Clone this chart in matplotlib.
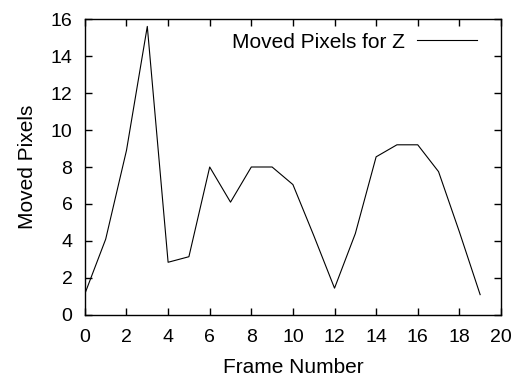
import matplotlib.pyplot as plt

plt.rcParams['font.family'] = ['Liberation Sans', 'DejaVu Sans']

# data
frames = list(range(20))
moved = [1.15, 4.1, 8.9, 15.6, 2.85, 3.15, 8.0, 6.1, 8.0, 8.0,
         7.05, 4.3, 1.45, 4.4, 8.55, 9.2, 9.2, 7.75, 4.5, 1.1]

fig = plt.figure(figsize=(5.24, 3.78), dpi=100)
ax = fig.add_axes([0.162, 0.1667, 0.794, 0.783])

ax.plot(frames, moved, color='black', lw=0.8, label='Moved Pixels for Z')

ax.set_xlim(0, 20)
ax.set_ylim(0, 16)
ax.set_xticks(range(0, 21, 2))
ax.set_yticks(range(0, 17, 2))
ax.tick_params(direction='in', top=True, right=True, labelsize=14,
               length=5, width=1)
ax.tick_params(axis='x', pad=10)
ax.tick_params(axis='y', pad=9)
for s in ax.spines.values():
    s.set_linewidth(1)

ax.set_xlabel('Frame Number', fontsize=15, labelpad=9)
ax.set_ylabel('Moved Pixels', fontsize=15, labelpad=10)

leg = ax.legend(loc='center right', bbox_to_anchor=(0.942, 0.922),
                frameon=False, fontsize=15, markerfirst=False,
                handlelength=2.85, handletextpad=0.6,
                borderpad=0, borderaxespad=0)

fig.savefig('out.png', dpi=100)
